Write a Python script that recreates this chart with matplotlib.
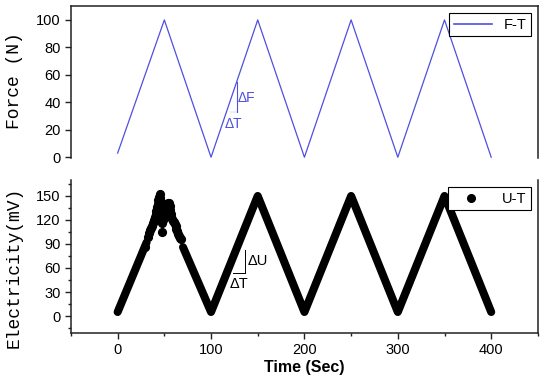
import matplotlib
matplotlib.use("Agg")
import matplotlib.pyplot as plt
from matplotlib.lines import Line2D
from matplotlib.ticker import MultipleLocator

# force vs time (vertices of the triangle wave)
t_force = [0, 50, 100, 150, 200, 250, 300, 350, 400]
force = [3, 100, 0, 100, 0, 100, 0, 100, 0]

# electricity vs time: clean parts
t_u1 = [0, 31]
u1 = [5, 92]
t_u2 = [70, 100, 150, 200, 250, 300, 350, 400]
u2 = [86, 5, 150, 5, 150, 5, 150, 5]

# noisy points around the first peak
t_noise = [29, 33, 34, 35, 36, 37, 38, 39, 40, 41, 41.5, 42, 43, 43, 44, 45,
           45, 46, 47, 48, 48.5, 49, 49, 48.5, 48, 48, 50, 51, 52, 53, 54,
           55, 56, 56, 57, 57.5, 58, 59, 60, 61, 62, 63, 64, 65, 66, 67, 68]
u_noise = [86, 99, 104, 107, 110, 113, 116, 120, 124, 128, 131, 136, 140, 145,
           149, 153, 147, 142, 140, 138, 134, 130, 125, 120, 116, 105, 128, 132,
           136, 139, 141, 141, 138, 133, 128, 124, 121, 119, 117, 115, 112, 109,
           106, 103, 100, 98, 96]

blue = '#4f4fe0'
tick_font = {'family': 'Liberation Sans', 'size': 10.5}

fig = plt.figure(figsize=(5.5, 3.87), dpi=100)
ax1 = fig.add_axes([0.129, 0.592, 0.849, 0.392])
ax2 = fig.add_axes([0.129, 0.140, 0.849, 0.395])

# top panel
ax1.plot(t_force, force, color=blue, lw=0.9)
ax1.set_xlim(-50, 450)
ax1.set_ylim(-0.5, 110)
ax1.spines['bottom'].set_visible(False)
ax1.set_xticks([])
ax1.yaxis.set_major_locator(MultipleLocator(20))
ax1.set_ylabel('Force (N)', family='Liberation Mono', fontsize=13)
ax1.yaxis.set_label_coords(-0.103, 0.51)
ax1.plot([127.4, 127.4], [55, 32.6], color=blue, lw=0.8)
ax1.plot([120, 127.4], [32.6, 32.6], color=blue, lw=0.3, alpha=0.5)
ax1.text(129, 43, '\u0394F', color=blue, fontsize=10, va='center', ha='left',
         family='Liberation Sans')
ax1.text(124, 24, '\u0394T', color=blue, fontsize=10, va='center', ha='center',
         family='Liberation Sans')
leg1 = ax1.legend([Line2D([], [], color=blue, lw=1.2)], ['F-T'], loc='upper right',
                  fancybox=False, edgecolor='black', framealpha=1,
                  prop={'family': 'Liberation Sans', 'size': 10.5},
                  handlelength=2.6, borderpad=0.3, borderaxespad=0.5)
leg1.get_frame().set_linewidth(0.8)

# bottom panel
ax2.plot(t_u1, u1, color='black', lw=5.8, solid_capstyle='round',
         solid_joinstyle='round')
ax2.plot(t_u2, u2, color='black', lw=5.8, solid_capstyle='round',
         solid_joinstyle='round')
ax2.plot(t_noise, u_noise, 'o', color='black', ms=5.6, ls='none')
ax2.set_xlim(-50, 450)
ax2.set_ylim(-21, 170)
ax2.spines['top'].set_visible(False)
ax2.xaxis.set_major_locator(MultipleLocator(100))
ax2.xaxis.set_minor_locator(MultipleLocator(50))
ax2.yaxis.set_major_locator(MultipleLocator(30))
ax2.yaxis.set_minor_locator(MultipleLocator(15))
ax2.set_xticks([0, 100, 200, 300, 400])
ax2.set_ylabel('Electricity(mV)', family='Liberation Mono', fontsize=13)
ax2.yaxis.set_label_coords(-0.103, 0.43)
ax2.set_xlabel('Time (Sec)', family='Liberation Sans', fontsize=11.5,
               fontweight='bold', labelpad=2)
ax2.plot([136, 136], [82.5, 54], color='black', lw=0.7)
ax2.plot([123, 136], [54, 54], color='black', lw=0.7)
ax2.text(139, 69, '\u0394U', fontsize=10.5, va='center', ha='left',
         family='Liberation Sans')
ax2.text(130, 40, '\u0394T', fontsize=10.5, va='center', ha='center',
         family='Liberation Sans')
leg2 = ax2.legend([Line2D([], [], marker='o', color='black', ls='none', ms=5.5)],
                  ['U-T'], loc='upper right', fancybox=False, edgecolor='black',
                  framealpha=1, prop={'family': 'Liberation Sans', 'size': 10.5},
                  handlelength=2.6, borderpad=0.3, borderaxespad=0.5)
leg2.get_frame().set_linewidth(0.8)

for ax in (ax1, ax2):
    for s in ax.spines.values():
        s.set_linewidth(1.1)
        s.set_color('#222222')
    ax.tick_params(which='both', direction='out', width=1, color='#222222')
    ax.tick_params(which='major', length=4)
    ax.tick_params(which='minor', length=2.5)
    for lab in ax.get_xticklabels() + ax.get_yticklabels():
        lab.set_family(tick_font['family'])
        lab.set_fontsize(tick_font['size'])

fig.savefig('out.png', dpi=100)
